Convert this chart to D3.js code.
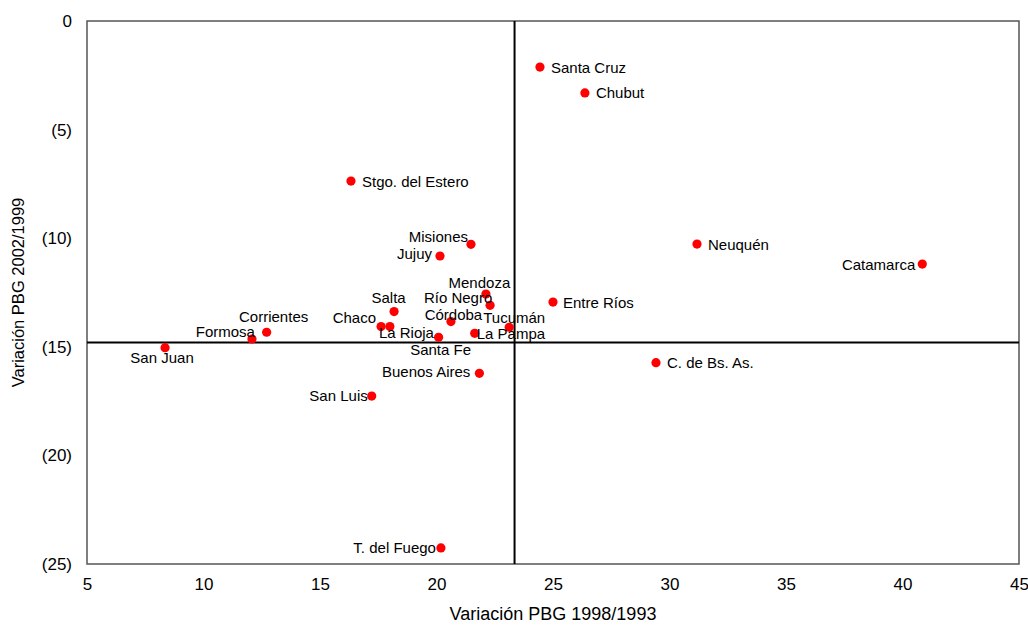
<!DOCTYPE html>
<html>
<head>
<meta charset="utf-8">
<script src="https://cdn.jsdelivr.net/npm/d3@7"></script>
<style>
  html, body { margin: 0; padding: 0; background: #fff; }
  svg { display: block; font-family: "Liberation Sans", Arial, sans-serif; }
</style>
</head>
<body>
<svg id="chart" width="1028" height="625"></svg>
<script>
// ---- data ----
const provinces = ["Santa Cruz","Chubut","Stgo. del Estero","Misiones","Jujuy","Neuquén","Catamarca",
  "Mendoza","Río Negro","Entre Ríos","Salta","Chaco","La Rioja","Córdoba","Santa Fe","La Pampa",
  "Tucumán","Corrientes","Formosa","San Juan","Buenos Aires","San Luis","T. del Fuego","C. de Bs. As."];
const pbg9893 = [24.44, 26.37, 16.33, 21.48, 20.15, 31.18, 40.85,
  22.12, 22.30, 25.00, 18.18, 17.62, 18.00, 20.62, 20.09, 21.64,
  23.12, 12.71, 12.08, 8.35, 21.84, 17.22, 20.19, 29.42];
const pbg0299 = [-2.12, -3.31, -7.37, -10.28, -10.82, -10.27, -11.19,
  -12.57, -13.09, -12.94, -13.38, -14.07, -14.07, -13.84, -14.56, -14.38,
  -14.10, -14.33, -14.64, -15.04, -16.22, -17.27, -24.26, -15.73];
const meanX = 23.35;
const meanY = -14.8;
const xTicks = [5, 10, 15, 20, 25, 30, 35, 40, 45];
const yTicks = [0, -5, -10, -15, -20, -25];
const xTitle = "Variación PBG 1998/1993";
const yTitle = "Variación PBG 2002/1999";

// ---- label placement (pixels relative to the dot) ----
const labelPlace = {
  "Santa Cruz": [11, 0, "start"], "Chubut": [11, 0, "start"], "Stgo. del Estero": [11, 0, "start"],
  "Misiones": [-3, -8, "end"], "Jujuy": [-8, -3, "end"], "Neuquén": [11, 0, "start"],
  "Catamarca": [-7, 0, "end"], "Mendoza": [-6.5, -12, "middle"], "Río Negro": [-32, -7.5, "middle"],
  "Entre Ríos": [10, 0, "start"], "Salta": [-5.5, -14, "middle"], "Chaco": [-5, -9, "end"],
  "La Rioja": [16.5, 6, "middle"], "Córdoba": [2.5, -7.5, "middle"], "Santa Fe": [2, 12, "middle"],
  "La Pampa": [2, 0, "start"], "Tucumán": [5, -10, "middle"], "Corrientes": [7, -16, "middle"],
  "Formosa": [3, -7, "end"], "San Juan": [-3, 10, "middle"], "Buenos Aires": [-9, -2, "end"],
  "San Luis": [-4, -1, "end"], "T. del Fuego": [-5, 0, "end"], "C. de Bs. As.": [11, 0, "start"]
};

(function () {
const svg = d3.select("#chart");
const pL = 87, pR = 1019, pT = 21, pB = 564;

const x = d3.scaleLinear().domain([5, 45]).range([pL, pR]);
const y = d3.scaleLinear().domain([0, -25]).range([pT, pB]);

const fmtY = v => v === 0 ? "0" : (v < 0 ? "(" + (-v) + ")" : String(v));

// frame
svg.append("rect")
  .attr("x", pL).attr("y", pT)
  .attr("width", pR - pL).attr("height", pB - pT)
  .attr("fill", "none").attr("stroke", "#555").attr("stroke-width", 1.5);

// axes (labels only)
const xAxis = svg.append("g").attr("transform", `translate(0,${pB})`)
  .call(d3.axisBottom(x).tickValues(xTicks).tickSize(0).tickPadding(14).tickFormat(d3.format("d")));
xAxis.select(".domain").remove();
xAxis.selectAll("text").attr("font-size", 17).attr("fill", "#000")
  .attr("font-family", "Liberation Sans, Arial, sans-serif");

const yAxis = svg.append("g").attr("transform", `translate(${pL},0)`)
  .call(d3.axisLeft(y).tickValues(yTicks).tickSize(0).tickPadding(15).tickFormat(fmtY));
yAxis.select(".domain").remove();
yAxis.selectAll("text").attr("font-size", 17).attr("fill", "#000")
  .attr("font-family", "Liberation Sans, Arial, sans-serif");

// mean lines
svg.append("line")
  .attr("x1", x(meanX)).attr("x2", x(meanX)).attr("y1", pT).attr("y2", pB)
  .attr("stroke", "#000").attr("stroke-width", 2);
svg.append("line")
  .attr("x1", pL).attr("x2", pR).attr("y1", y(meanY)).attr("y2", y(meanY))
  .attr("stroke", "#000").attr("stroke-width", 2);

// points
const pts = provinces.map((p, i) => ({ name: p, vx: pbg9893[i], vy: pbg0299[i] }));

svg.append("g").selectAll("circle").data(pts).join("circle")
  .attr("cx", d => x(d.vx)).attr("cy", d => y(d.vy)).attr("r", 4.6)
  .attr("fill", "#ff0000");

svg.append("g").selectAll("text").data(pts).join("text")
  .attr("x", d => x(d.vx) + labelPlace[d.name][0])
  .attr("y", d => y(d.vy) + labelPlace[d.name][1])
  .attr("text-anchor", d => labelPlace[d.name][2])
  .attr("dominant-baseline", "central")
  .attr("font-size", 15).attr("fill", "#000")
  .text(d => d.name);

// titles
svg.append("text")
  .attr("x", 553).attr("y", 614)
  .attr("text-anchor", "middle").attr("dominant-baseline", "central")
  .attr("font-size", 18).attr("fill", "#000").text(xTitle);

svg.append("text")
  .attr("transform", `translate(18,${(pT + pB) / 2}) rotate(-90)`)
  .attr("text-anchor", "middle").attr("dominant-baseline", "central")
  .attr("font-size", 16.5).attr("fill", "#000").text(yTitle);
})();
</script>
</body>
</html>
